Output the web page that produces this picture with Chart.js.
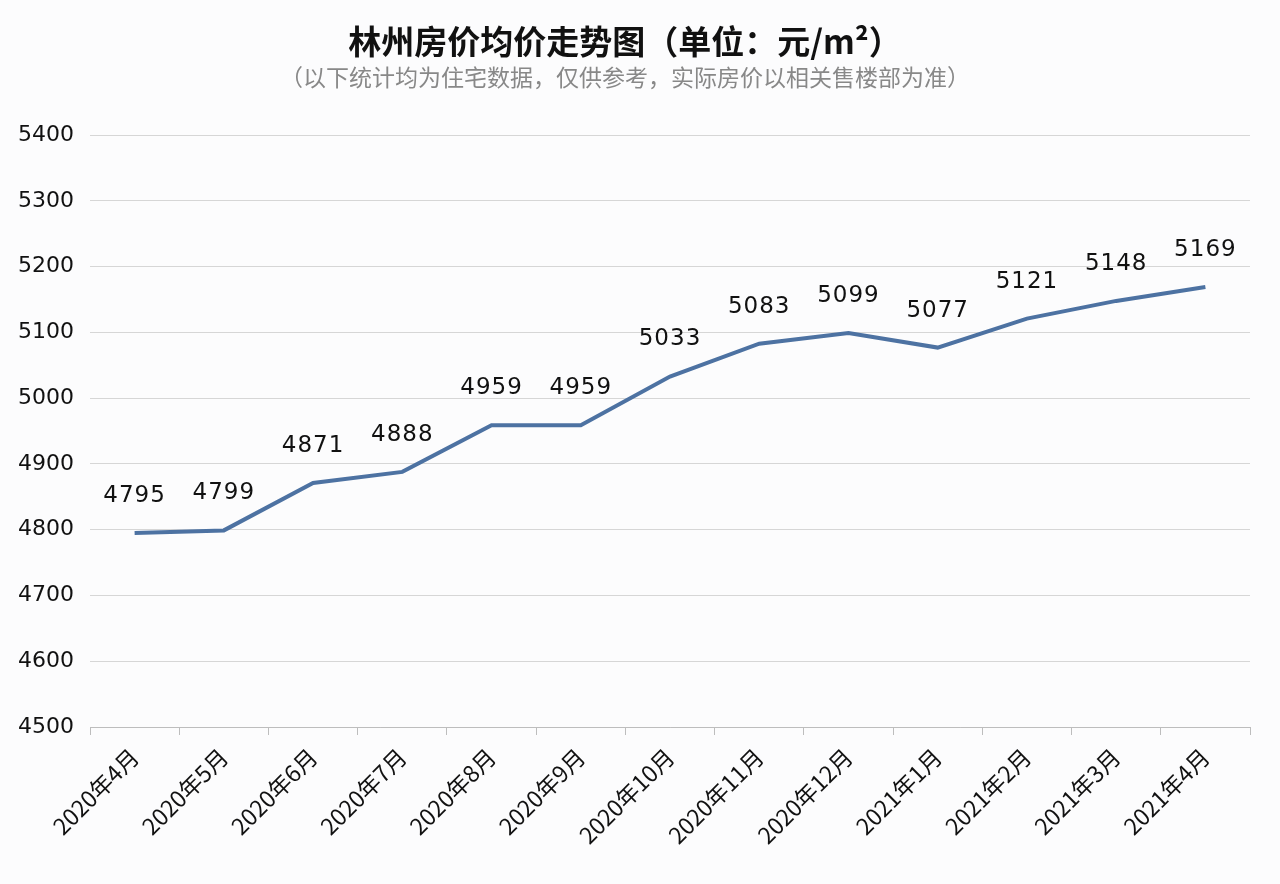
<!DOCTYPE html>
<html>
<head>
<meta charset="utf-8">
<script src="https://cdn.jsdelivr.net/npm/chart.js@4"></script>
<style>
  html, body { margin: 0; padding: 0; background: #fcfcfd; }
  #wrap { width: 1280px; height: 884px; position: relative; }
</style>
</head>
<body>
<div id="wrap"><canvas id="priceChart"></canvas></div>
<script>
const months = [
  "2020年4月", "2020年5月", "2020年6月", "2020年7月", "2020年8月",
  "2020年9月", "2020年10月", "2020年11月", "2020年12月",
  "2021年1月", "2021年2月", "2021年3月", "2021年4月",
];
const avgPrice = [4795, 4799, 4871, 4888, 4959, 4959, 5033, 5083, 5099, 5077, 5121, 5148, 5169];
const yTicks = [4500, 4600, 4700, 4800, 4900, 5000, 5100, 5200, 5300, 5400];

const cjkFont = "'Noto Sans CJK SC', 'Noto Sans', sans-serif";
const numFont = "'DejaVu Sans', sans-serif";

// value labels above each point
const valueLabels = {
  id: "valueLabels",
  afterDatasetsDraw(chart) {
    const ctx = chart.ctx;
    const meta = chart.getDatasetMeta(0);
    ctx.save();
    ctx.font = "23px " + numFont;
    ctx.letterSpacing = "1px";
    ctx.fillStyle = "#111";
    ctx.textAlign = "center";
    ctx.textBaseline = "middle";
    meta.data.forEach((pt, i) => {
      ctx.fillText(String(avgPrice[i]), pt.x, pt.y - 37);
    });
    ctx.restore();
  },
};

new Chart(document.getElementById("priceChart"), {
  type: "line",
  data: {
    labels: months,
    datasets: [
      {
        label: "均价",
        data: avgPrice,
        borderColor: "#4d72a2",
        borderWidth: 4,
        pointRadius: 0,
        fill: false,
        tension: 0,
      },
    ],
  },
  options: {
    responsive: true,
    maintainAspectRatio: false,
    animation: false,
    layout: { padding: { left: 0, right: 30, bottom: 0 } },
    plugins: {
      legend: { display: false },
      tooltip: { enabled: false },
      title: {
        display: true,
        text: "林州房价均价走势图（单位：元/m²）",
        color: "#111",
        font: { family: cjkFont, size: 33, weight: "bold" },
        padding: { top: 22, bottom: 2 },
      },
      subtitle: {
        display: true,
        text: "（以下统计均为住宅数据，仅供参考，实际房价以相关售楼部为准）",
        color: "#888",
        font: { family: cjkFont, size: 23 },
        padding: { top: 0, bottom: 44 },
      },
    },
    scales: {
      x: {
        offset: true,
        afterFit(scale) {
          scale.height = 157;
        },
        grid: {
          offset: true,
          drawOnChartArea: false,
          drawTicks: true,
          tickLength: 8,
          color: "#bdbdbd",
        },
        border: { display: true, color: "#bdbdbd" },
        ticks: {
          color: "#111",
          font: { family: cjkFont, size: 23 },
          maxRotation: 45,
          minRotation: 45,
          padding: 8,
        },
      },
      y: {
        min: 4500,
        max: 5400,
        afterBuildTicks(scale) {
          scale.ticks = yTicks.map((v) => ({ value: v }));
        },
        afterFit(scale) {
          scale.width = 90;
        },
        grid: { color: "#d6d6d6", drawTicks: false, lineWidth: 1 },
        border: { display: false },
        ticks: {
          color: "#111",
          font: { family: numFont, size: 22 },
          padding: 16,
          callback: (v) => String(v),
        },
      },
    },
  },
  plugins: [valueLabels],
});
</script>
</body>
</html>
